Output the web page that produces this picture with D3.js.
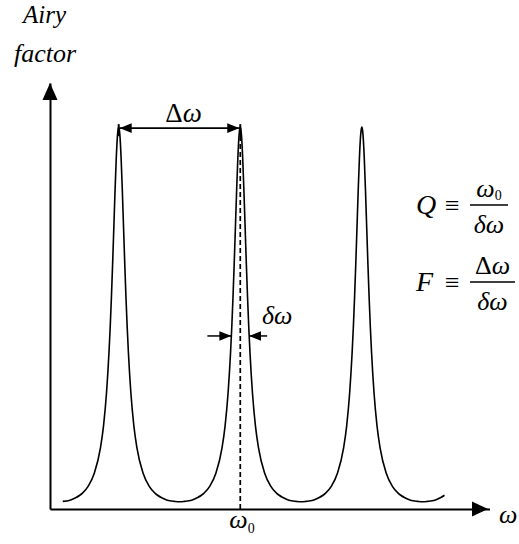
<!DOCTYPE html>
<html><head><meta charset="utf-8">
<script src="https://cdn.jsdelivr.net/npm/d3@7"></script>
<style>
body{margin:0;background:#fff}
svg{display:block}
text{font-family:"Liberation Serif","DejaVu Serif",serif;fill:#000}
</style>
</head><body>
<svg id="c" width="519" height="544"></svg>
<script>
// ---- data ----
// resonance positions (in units of the free spectral range; ω0 is the 2nd one)
const peakOmega = [1, 2, 3, 4];
const omega0 = 2;
// half profile of one resonance: offset from the peak and Airy factor value (relative to axis)
const profileOffset = [0, 0.004, 0.01, 0.02, 0.03, 0.04, 0.05, 0.06, 0.07, 0.08, 0.10, 0.125, 0.15, 0.20, 0.25, 0.30, 0.32, 0.35, 0.40, 0.46, 0.50];
const profileValue  = [1, 0.996, 0.978, 0.918, 0.833, 0.737, 0.641, 0.553, 0.475, 0.409, 0.305, 0.217, 0.160, 0.094, 0.060, 0.041, 0.036, 0.030, 0.023, 0.020, 0.019];
const curveStart = 0.54, curveEnd = 3.68;
const deltaOmegaHalfWidth = 0.073;  // half width where δω arrows point
const deltaOmegaLevel = 0.453;      // level of δω arrows
const axisXMin = 0.435, axisXMax = 4.05, axisYMax = 1.115;

// ---- build curve points ----
const ptsMap = new Map();
peakOmega.forEach(p => {
  profileOffset.forEach((d, i) => {
    [-1, 1].forEach(s => {
      const w = +(p + s * d).toFixed(4);
      if (w >= curveStart - 1e-9 && w <= curveEnd + 1e-9) ptsMap.set(w, profileValue[i]);
    });
  });
});
const pts = Array.from(ptsMap, ([w, v]) => ({w, v})).sort((a, b) => a.w - b.w);

const svg = d3.select("#c");
const x = d3.scaleLinear().domain([axisXMin, axisXMax]).range([50, 489.5]);
const y = d3.scaleLinear().domain([0, 1]).range([509, 127]);

// axes (no ticks), via d3 axis generators
const xAxis = d3.axisBottom(x).tickValues([]).tickSizeOuter(0);
svg.append("g").attr("transform", `translate(0,${y(0)})`).call(xAxis)
  .select(".domain").attr("stroke", "#000").attr("stroke-width", 2);
const yAxisScale = d3.scaleLinear().domain([0, axisYMax]).range([y(0), y(axisYMax)]);
const yAxis = d3.axisLeft(yAxisScale).tickValues([]).tickSizeOuter(0);
svg.append("g").attr("transform", `translate(${x(axisXMin)},0)`).call(yAxis)
  .select(".domain").attr("stroke", "#000").attr("stroke-width", 2);

// arrowheads on axes
const xt = x(axisXMax) - 1.5, y0 = y(0);
svg.append("path").attr("d", `M${xt},${y0} L${xt-16},${y0-7.5} L${xt-16},${y0+7.5} Z`).attr("fill", "#000");
const yx = x(axisXMin), yt = yAxisScale(axisYMax);
svg.append("path").attr("d", `M${yx},${yt} L${yx-7.5},${yt+17} L${yx+7.5},${yt+17} Z`).attr("fill", "#000");

// dashed line at ω0
svg.append("line").attr("x1", x(omega0)).attr("x2", x(omega0))
  .attr("y1", y(0)).attr("y2", y(0.985))
  .attr("stroke", "#000").attr("stroke-width", 1.7).attr("stroke-dasharray", "5,3");

// Airy curve
const line = d3.line().x(d => x(d.w)).y(d => y(d.v)).curve(d3.curveMonotoneX);
svg.append("path").datum(pts).attr("d", line)
  .attr("fill", "none").attr("stroke", "#000").attr("stroke-width", 1.6).attr("stroke-linejoin", "round");

// markers
const defs = svg.append("defs");
defs.append("marker").attr("id", "ah").attr("viewBox", "0 0 10 10").attr("refX", 10).attr("refY", 5)
  .attr("markerWidth", 12).attr("markerHeight", 12).attr("markerUnits", "userSpaceOnUse").attr("orient", "auto-start-reverse")
  .append("path").attr("d", "M0,1 L10,5 L0,9 Z").attr("fill", "#000");

// Δω arrow between peaks
const dy = y(0.997);
svg.append("line").attr("x1", x(1) + 1).attr("x2", x(2) - 1).attr("y1", dy).attr("y2", dy)
  .attr("stroke", "#000").attr("stroke-width", 1.8)
  .attr("marker-start", "url(#ah)").attr("marker-end", "url(#ah)");
[1, 2].forEach(p => svg.append("line").attr("x1", x(p)).attr("x2", x(p)).attr("y1", dy - 4).attr("y2", dy + 8)
  .attr("stroke", "#000").attr("stroke-width", 2));
svg.append("text").attr("x", (x(1) + x(2)) / 2 + 4).attr("y", 122).attr("text-anchor", "middle")
  .attr("font-size", 27).html('Δ<tspan font-style="italic">ω</tspan>');

// δω arrows
const sy = y(deltaOmegaLevel);
const lx = x(omega0 - deltaOmegaHalfWidth), rx = x(omega0 + deltaOmegaHalfWidth);
svg.append("line").attr("x1", lx - 24).attr("x2", lx).attr("y1", sy).attr("y2", sy)
  .attr("stroke", "#000").attr("stroke-width", 1.5).attr("marker-end", "url(#ah)");
svg.append("line").attr("x1", rx + 18).attr("x2", rx).attr("y1", sy).attr("y2", sy)
  .attr("stroke", "#000").attr("stroke-width", 1.5).attr("marker-end", "url(#ah)");
svg.append("text").attr("x", 262).attr("y", 324).attr("font-size", 26).attr("font-style", "italic").text("δω");

// axis labels
svg.append("text").attr("x", 23).attr("y", 23).attr("font-size", 25).attr("font-style", "italic").text("Airy");
svg.append("text").attr("x", 14).attr("y", 62).attr("font-size", 26).attr("font-style", "italic").text("factor");
svg.append("text").attr("x", 499).attr("y", 523).attr("font-size", 26).attr("font-style", "italic").text("ω");
svg.append("text").attr("x", x(omega0) - 11).attr("y", 528).attr("font-size", 26)
  .html('<tspan font-style="italic">ω</tspan><tspan font-size="14" dy="5">0</tspan>');

// formulas
function eq(lhs, yLine, numHtml, denHtml, lineX1, lineX2) {
  svg.append("text").attr("x", 416).attr("y", yLine + 9).attr("font-size", 28).attr("font-style", "italic").text(lhs);
  svg.append("text").attr("x", 445).attr("y", yLine + 9).attr("font-size", 26).text("≡");
  svg.append("line").attr("x1", lineX1).attr("x2", lineX2).attr("y1", yLine).attr("y2", yLine)
    .attr("stroke", "#000").attr("stroke-width", 1.5);
  const cx = (lineX1 + lineX2) / 2;
  svg.append("text").attr("x", cx).attr("y", yLine - 8).attr("text-anchor", "middle").attr("font-size", 26).html(numHtml);
  svg.append("text").attr("x", cx).attr("y", yLine + 28).attr("text-anchor", "middle").attr("font-size", 26)
    .attr("font-style", "italic").html(denHtml);
}
eq("Q", 205, '<tspan font-style="italic">ω</tspan><tspan font-size="14" dy="3">0</tspan>', "δω", 470, 508);
eq("F", 282, 'Δ<tspan font-style="italic">ω</tspan>', "δω", 470, 515);
</script>
</body></html>
